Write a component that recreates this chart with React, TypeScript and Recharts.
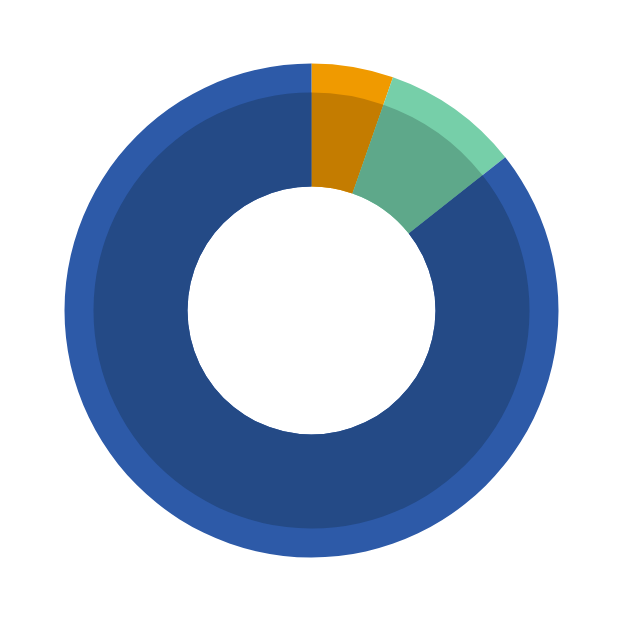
import React from 'react';
import { PieChart, Pie, Cell } from 'recharts';

const categories = ['Orange', 'Green', 'Blue'];
const values = [5.35, 9.0, 85.65];
const outerColors = ['#f09a00', '#76cfa9', '#2d5aa8'];
const innerColors = ['#c47c00', '#5ea88a', '#244a86'];

const data = categories.map((name, i) => ({ name, value: values[i] }));

const App: React.FC = () => {
    return (
        <div style={{ width: 614, height: 614, overflow: 'hidden' }}>
            <PieChart width={614} height={614} margin={{ top: 0, right: 0, bottom: 0, left: 0 }}>
                <Pie
                    data={data}
                    dataKey="value"
                    cx={303.5}
                    cy={302.5}
                    innerRadius={124}
                    outerRadius={247}
                    startAngle={90}
                    endAngle={-270}
                    stroke="none"
                    isAnimationActive={false}
                >
                    {data.map((d, i) => (
                        <Cell key={d.name} fill={outerColors[i]} />
                    ))}
                </Pie>
                <Pie
                    data={data}
                    dataKey="value"
                    cx={303.5}
                    cy={302.5}
                    innerRadius={124}
                    outerRadius={218}
                    startAngle={90}
                    endAngle={-270}
                    stroke="none"
                    isAnimationActive={false}
                >
                    {data.map((d, i) => (
                        <Cell key={d.name} fill={innerColors[i]} />
                    ))}
                </Pie>
            </PieChart>
        </div>
    );
};

export default App;
